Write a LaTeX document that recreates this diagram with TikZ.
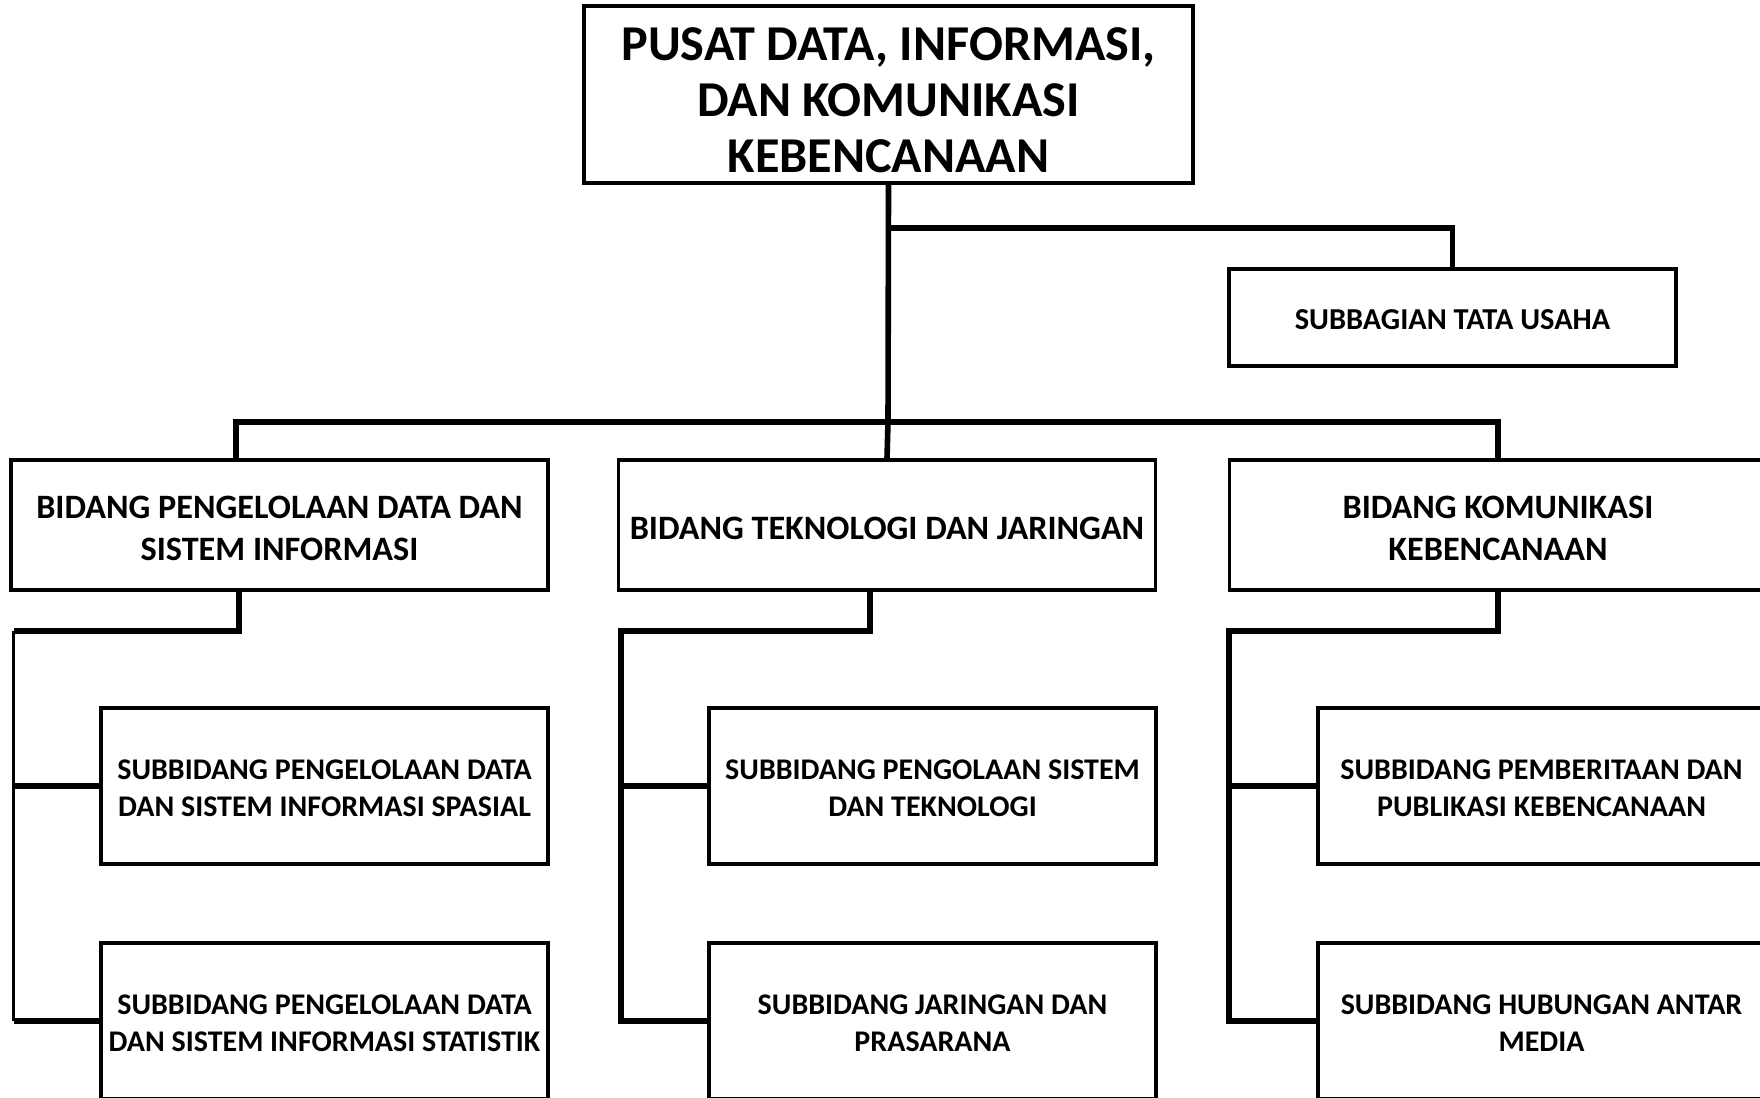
\documentclass[tikz,border=0pt]{standalone}
\usepackage{fontspec}
\setmainfont{Carlito}
\begin{document}
\begin{tikzpicture}[x=0.5pt,y=-0.5pt,
  box/.style={draw, line width=1.8pt, fill=white, inner sep=0pt, line join=miter},
  boxtext/.style={align=center, inner sep=0pt},
  topbox/.style={box, minimum width=304.5pt, minimum height=88.5pt,
     label={[boxtext, yshift=-2.8pt, font=\fontsize{25.1pt}{28pt}\selectfont\bfseries]center:{#1}}},
  tubox/.style={box, minimum width=223.5pt, minimum height=48.5pt,
     label={[boxtext, yshift=-1.1pt, font=\fontsize{15.2pt}{18.5pt}\selectfont\bfseries]center:{#1}}},
  bidbox/.style={box, minimum width=268.5pt, minimum height=65pt,
     label={[boxtext, yshift=-1.5pt, font=\fontsize{17.1pt}{21pt}\selectfont\bfseries]center:{#1}}},
  subbox/.style={box, minimum width=223.5pt, minimum height=78pt,
     label={[boxtext, yshift=-1.1pt, font=\fontsize{15pt}{18.5pt}\selectfont\bfseries]center:{#1}}},
  conn/.style={line width=2.8pt, line join=miter},
  thinconn/.style={line width=1.3pt}]
\useasboundingbox (0,0) rectangle (1760,1097);
\fill[white] (0,0) rectangle (1760,1097);

\coordinate (j1) at (888,228);
\coordinate (bar) at (888,422);
\coordinate (barL) at (236,422);
\coordinate (barR) at (1498,422);
\coordinate (u1) at (236,460);
\coordinate (d1) at (239,590);
\coordinate (k1) at (13.5,631);
\coordinate (d2) at (870,590);
\coordinate (k2) at (621,631);
\coordinate (d3) at (1498,590);
\coordinate (k3) at (1229,631);

\node[topbox={PUSAT DATA, INFORMASI,\\DAN KOMUNIKASI\\KEBENCANAAN}] (top) at (888.5,94.5) {};
\node[tubox={SUBBAGIAN TATA USAHA}] (tu) at (1452.5,317.5) {};
\node[bidbox={BIDANG PENGELOLAAN DATA DAN\\SISTEM INFORMASI}] (b1) at (279.5,525) {};
\node[bidbox={BIDANG TEKNOLOGI DAN JARINGAN}] (b2) at (887,525) {};
\node[bidbox={BIDANG KOMUNIKASI\\KEBENCANAAN}] (b3) at (1498,525) {};
\node[subbox={SUBBIDANG PENGELOLAAN DATA\\DAN SISTEM INFORMASI SPASIAL}] (s11) at (324.5,786) {};
\node[subbox={SUBBIDANG PENGELOLAAN DATA\\DAN SISTEM INFORMASI STATISTIK}] (s12) at (324.5,1021) {};
\node[subbox={SUBBIDANG PENGOLAAN SISTEM\\DAN TEKNOLOGI}] (s21) at (932.5,786) {};
\node[subbox={SUBBIDANG JARINGAN DAN\\PRASARANA}] (s22) at (932.5,1021) {};
\node[subbox={SUBBIDANG PEMBERITAAN DAN\\PUBLIKASI KEBENCANAAN}] (s31) at (1541.5,786) {};
\node[subbox={SUBBIDANG HUBUNGAN ANTAR\\MEDIA}] (s32) at (1541.5,1021) {};

% top trunk
\draw[conn] (top.south) -- (bar);
\draw[conn] (j1) -| (tu.north);
\draw[conn] (u1) -- (barL) -- (barR) -- (b3.north);
\draw[conn] (bar) -- (b2.north);

% left group
\draw[conn] (d1) |- (k1);
\draw[thinconn] (k1) -- (k1 |- s12.west);
\draw[conn] (k1 |- s11.west) -- (s11.west);
\draw[conn] (k1 |- s12.west) -- (s12.west);

% middle group
\draw[conn] (d2) |- (k2) -- (k2 |- s22.west) -- (s22.west);
\draw[conn] (k2 |- s21.west) -- (s21.west);

% right group
\draw[conn] (d3) |- (k3) -- (k3 |- s32.west) -- (s32.west);
\draw[conn] (k3 |- s31.west) -- (s31.west);
\end{tikzpicture}
\end{document}
